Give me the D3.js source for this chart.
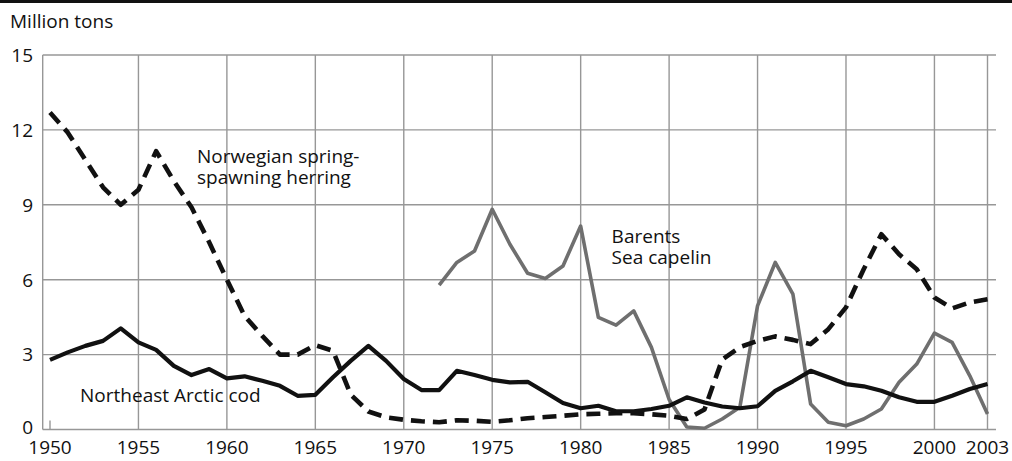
<!DOCTYPE html>
<html>
<head>
<meta charset="utf-8">
<script src="https://cdn.jsdelivr.net/npm/d3@7"></script>
<style>
  html, body { margin: 0; padding: 0; background: #fff; }
  svg { display: block; }
  text { font-family: "Open Sans", "Noto Sans", sans-serif; fill: #111; }
</style>
</head>
<body>
<svg id="chart" width="1012" height="461"></svg>
<script>
// ---- data ----
const years = d3.range(1950, 2004);
const herring = [12.7, 11.9, 10.8, 9.7, 9.0, 9.6, 11.15, 9.95, 8.9, 7.5,
  6.0, 4.55, 3.75, 3.0, 3.0, 3.38, 3.15, 1.4, 0.72, 0.49,
  0.39, 0.33, 0.29, 0.37, 0.35, 0.31, 0.37, 0.45, 0.5, 0.55,
  0.61, 0.63, 0.65, 0.65, 0.61, 0.55, 0.42, 0.8, 2.8, 3.3,
  3.55, 3.73, 3.59, 3.42, 4.02, 4.89, 6.42, 7.82, 7.02, 6.42,
  5.29, 4.85, 5.09, 5.22];
const cod = [2.79, 3.09, 3.35, 3.55, 4.05, 3.49, 3.19, 2.55, 2.18, 2.42,
  2.05, 2.13, 1.95, 1.75, 1.35, 1.39, 2.09, 2.75, 3.35, 2.75,
  2.02, 1.58, 1.58, 2.35, 2.18, 1.99, 1.89, 1.91, 1.49, 1.06,
  0.85, 0.95, 0.73, 0.73, 0.82, 0.95, 1.29, 1.08, 0.92, 0.85,
  0.93, 1.55, 1.93, 2.35, 2.09, 1.82, 1.73, 1.55, 1.29, 1.11,
  1.11, 1.35, 1.62, 1.82];
const capelinYears = d3.range(1972, 2004);
const capelin = [5.78, 6.69, 7.15, 8.82, 7.42, 6.26, 6.05, 6.55, 8.15, 4.49,
  4.18, 4.75, 3.29, 1.2, 0.1, 0.05, 0.42, 0.89, 4.95, 6.69,
  5.42, 1.02, 0.29, 0.15, 0.42, 0.82, 1.89, 2.62, 3.86, 3.49,
  2.15, 0.62];
const yTicks = [0, 3, 6, 9, 12, 15];
const xTicks = [1950, 1955, 1960, 1965, 1970, 1975, 1980, 1985, 1990, 1995, 2000, 2003];
const yTitle = "Million tons";
const labels = [
  { lines: ["Norwegian spring-", "spawning herring"], year: 1958.31, value: 10.69 },
  { lines: ["Barents", "Sea capelin"], year: 1981.75, value: 7.45 },
  { lines: ["Northeast Arctic cod"], year: 1951.7, value: 1.11 }
];

// ---- layout ----
const svg = d3.select("#chart");
const plotL = 42.7, plotR = 996, plotT = 55, plotB = 429.5;
const x = d3.scaleLinear().domain([1950, 2003]).range([50, 987.5]);
const y = d3.scaleLinear().domain([0, 15]).range([plotB, plotT]);

// top rule
svg.append("rect").attr("x", 0).attr("y", 0).attr("width", 1012).attr("height", 3).attr("fill", "#111");

// grid
const grid = svg.append("g").attr("stroke", "#979797").attr("stroke-width", 1.4);
grid.selectAll("line.h").data(yTicks).join("line").attr("class", "h")
  .attr("x1", plotL).attr("x2", plotR)
  .attr("y1", d => y(d)).attr("y2", d => y(d));
grid.selectAll("line.v").data(xTicks.filter(d => d !== 1950)).join("line").attr("class", "v")
  .attr("x1", d => x(d)).attr("x2", d => x(d))
  .attr("y1", plotT).attr("y2", plotB);
grid.append("line").attr("x1", plotL).attr("x2", plotL).attr("y1", plotT).attr("y2", plotB);
grid.append("line").attr("x1", x(1950)).attr("x2", x(1950)).attr("y1", plotB - 9).attr("y2", plotB);

// y tick labels
svg.append("g").selectAll("text").data(yTicks).join("text")
  .attr("x", 33).attr("y", d => y(d) - (d === 0 ? 2 : 0)).attr("dy", "0.36em")
  .attr("text-anchor", "end").attr("font-size", 19).text(d => d);
// x tick labels
svg.append("g").selectAll("text").data(xTicks).join("text")
  .attr("x", d => x(d)).attr("y", 453.5)
  .attr("text-anchor", "middle").attr("font-size", 19).text(d => d);

// y title
svg.append("text").attr("x", 10).attr("y", 28).attr("font-size", 19).text(yTitle);

// lines
const line = d3.line().x(d => x(d[0])).y(d => y(d[1]));
svg.append("path").datum(d3.zip(capelinYears, capelin))
  .attr("d", line).attr("fill", "none").attr("stroke", "#6f6f6f")
  .attr("stroke-width", 3.6).attr("stroke-linejoin", "round");
svg.append("path").datum(d3.zip(years, herring))
  .attr("d", line).attr("fill", "none").attr("stroke", "#111")
  .attr("stroke-width", 4.6).attr("stroke-dasharray", "14,8").attr("stroke-linejoin", "round");
svg.append("path").datum(d3.zip(years, cod))
  .attr("d", line).attr("fill", "none").attr("stroke", "#111")
  .attr("stroke-width", 4.2).attr("stroke-linejoin", "round");

// annotations
labels.forEach(l => {
  const t = svg.append("text").attr("font-size", 19)
    .attr("x", x(l.year)).attr("y", y(l.value));
  l.lines.forEach((s, i) => {
    t.append("tspan").attr("x", x(l.year)).attr("dy", i === 0 ? 0 : 21).text(s);
  });
});
</script>
</body>
</html>
